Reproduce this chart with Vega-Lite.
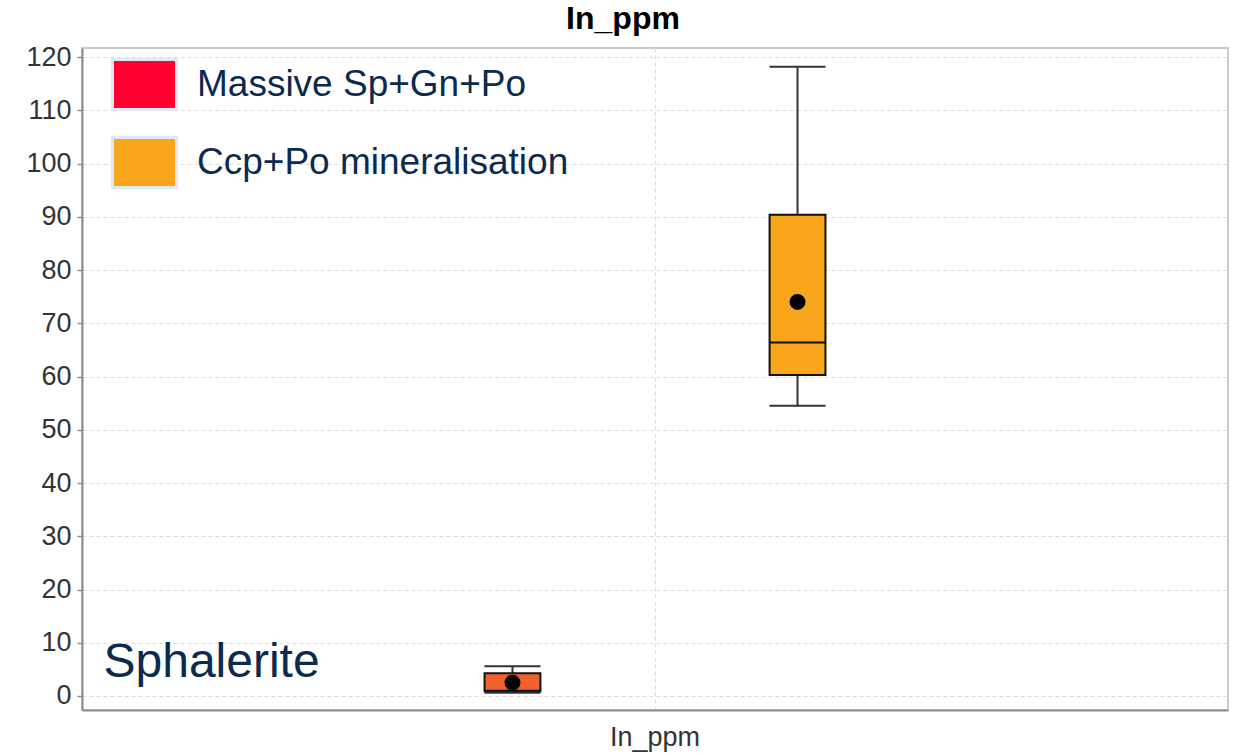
{
  "$schema": "https://vega.github.io/schema/vega-lite/v6.json",
  "width": 1146,
  "height": 662,
  "autosize": {"type": "none"},
  "padding": {"left": 82, "top": 48, "right": 7, "bottom": 45},
  "background": "white",
  "title": {
    "text": "In_ppm",
    "font": "Liberation Sans",
    "fontSize": 32,
    "fontWeight": "bold",
    "color": "#000000",
    "anchor": "middle",
    "frame": "group",
    "baseline": "bottom",
    "dx": -32,
    "dy": 35,
    "offset": 10
  },
  "data": {
    "values": [
      {"var": "In_ppm", "group": "Massive Sp+Gn+Po", "lower": 0.6, "q1": 0.9, "median": 1.0, "q3": 4.25, "upper": 5.6, "mean": 2.5},
      {"var": "In_ppm", "group": "Ccp+Po mineralisation", "lower": 54.5, "q1": 60.3, "median": 66.4, "q3": 90.4, "upper": 118.2, "mean": 74.0}
    ]
  },
  "layer": [
    {
      "mark": {"type": "point", "filled": true, "opacity": 0},
      "encoding": {
        "x": {
          "field": "var", "type": "nominal",
          "scale": {"paddingInner": 0, "paddingOuter": 0.129},
          "axis": {"title": null, "labelAngle": 0, "labelFontSize": 27, "ticks": false, "grid": true, "bandPosition": 0.5, "labelPadding": 14}
        },
        "xOffset": {"field": "group", "type": "nominal", "scale": {"domain": ["Massive Sp+Gn+Po", "Ccp+Po mineralisation"], "paddingInner": 0.804, "paddingOuter": 1}},
        "y": {
          "field": "mean", "type": "quantitative",
          "scale": {"domain": [-2.63, 121.7], "nice": false, "zero": false},
          "axis": {"title": null, "values": [0, 10, 20, 30, 40, 50, 60, 70, 80, 90, 100, 110, 120], "labelFontSize": 27, "tickSize": 5, "tickWidth": 1.5, "labelPadding": 6, "grid": true}
        },
        "color": {
          "field": "group", "type": "nominal",
          "scale": {"domain": ["Massive Sp+Gn+Po", "Ccp+Po mineralisation"], "range": ["#ff0033", "#f9a61d"]},
          "legend": {
            "orient": "none", "legendX": 29, "legendY": 3, "title": null, "padding": 0,
            "symbolType": "M-1,-0.78H1V0.78H-1Z", "symbolSize": 4096, "symbolOpacity": 1,
            "symbolStrokeColor": "#dde9f4", "symbolStrokeWidth": 3,
            "labelFont": "Liberation Sans", "labelFontSize": 37, "labelColor": "#0c2a4f",
            "labelOffset": 19, "rowPadding": 13, "labelLimit": 0
          }
        }
      }
    },
    {
      "mark": {"type": "rule", "color": "#333333", "strokeWidth": 2},
      "encoding": {
        "x": {"field": "var", "type": "nominal"},
        "xOffset": {"field": "group", "type": "nominal"},
        "y": {"field": "lower", "type": "quantitative"},
        "y2": {"field": "upper"}
      }
    },
    {
      "mark": {"type": "bar", "stroke": "#111111", "strokeWidth": 2},
      "encoding": {
        "x": {"field": "var", "type": "nominal"},
        "xOffset": {"field": "group", "type": "nominal"},
        "y": {"field": "q1", "type": "quantitative"},
        "y2": {"field": "q3"},
        "fill": {
          "field": "group", "type": "nominal",
          "scale": {"domain": ["Massive Sp+Gn+Po", "Ccp+Po mineralisation"], "range": ["#f0632e", "#f9a61d"]},
          "legend": null
        }
      }
    },
    {
      "mark": {"type": "tick", "color": "#111111", "opacity": 1, "size": 56, "thickness": 2},
      "encoding": {
        "x": {"field": "var", "type": "nominal"},
        "xOffset": {"field": "group", "type": "nominal"},
        "y": {"field": "median", "type": "quantitative"}
      }
    },
    {
      "mark": {"type": "tick", "color": "#333333", "opacity": 1, "size": 56, "thickness": 2},
      "encoding": {
        "x": {"field": "var", "type": "nominal"},
        "xOffset": {"field": "group", "type": "nominal"},
        "y": {"field": "lower", "type": "quantitative"}
      }
    },
    {
      "mark": {"type": "tick", "color": "#333333", "opacity": 1, "size": 56, "thickness": 2},
      "encoding": {
        "x": {"field": "var", "type": "nominal"},
        "xOffset": {"field": "group", "type": "nominal"},
        "y": {"field": "upper", "type": "quantitative"}
      }
    },
    {
      "mark": {"type": "point", "filled": true, "color": "#000000", "opacity": 1, "size": 254},
      "encoding": {
        "x": {"field": "var", "type": "nominal"},
        "xOffset": {"field": "group", "type": "nominal"},
        "y": {"field": "mean", "type": "quantitative"}
      }
    },
    {
      "data": {"values": [{"var": "In_ppm", "note": "Sphalerite"}]},
      "mark": {"type": "text", "align": "left", "baseline": "alphabetic", "dx": -96, "font": "Liberation Sans", "fontSize": 48, "color": "#0c2a4f"},
      "encoding": {
        "x": {"field": "var", "type": "nominal", "bandPosition": 0},
        "y": {"datum": 3.6, "type": "quantitative"},
        "text": {"field": "note"}
      }
    }
  ],
  "config": {
    "view": {"stroke": "#cbcbcb", "strokeWidth": 2},
    "axis": {
      "labelFont": "Liberation Sans",
      "labelColor": "#333333",
      "gridColor": "#dcdcdc",
      "gridDash": [4, 3],
      "gridWidth": 1,
      "domainColor": "#8c8c8c",
      "domainWidth": 2,
      "tickColor": "#8c8c8c"
    }
  }
}
